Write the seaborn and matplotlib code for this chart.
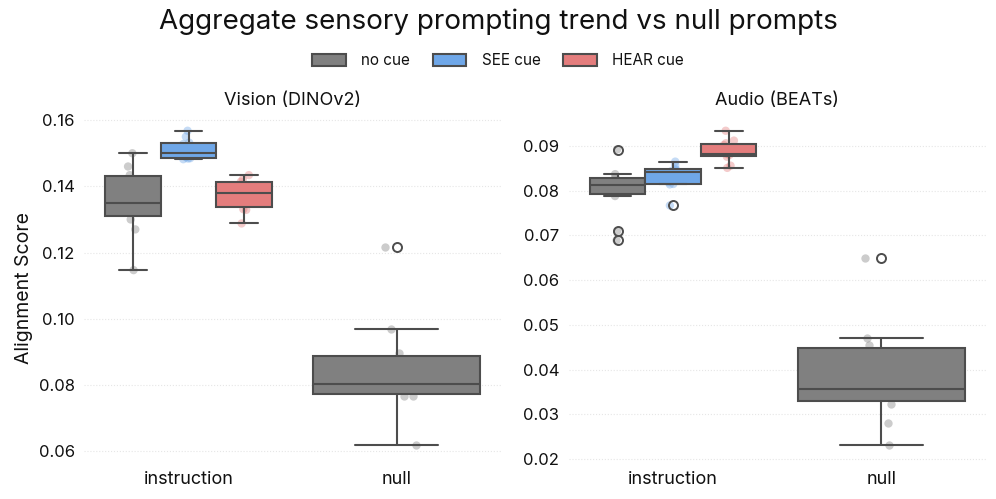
# Aggregate sensory prompting trend vs null prompts

import numpy as np
import pandas as pd
import matplotlib.pyplot as plt
import seaborn as sns
from matplotlib.patches import Patch

np.random.seed(3)

# Values
cues = ["no cue", "SEE cue", "HEAR cue"]
prompts = ["instruction", "null"]

vision_instr_nocue = [0.1147, 0.127, 0.130, 0.134, 0.1345, 0.1355, 0.142, 0.1434, 0.146, 0.150]
vision_instr_see = [0.1482, 0.1484, 0.1485, 0.1488, 0.1498, 0.1506, 0.1528, 0.1532, 0.155, 0.1568]
vision_instr_hear = [0.1288, 0.1329, 0.1331, 0.1361, 0.1375, 0.1385, 0.1405, 0.1414, 0.1421, 0.1434]
vision_null = [0.0618, 0.0767, 0.0767, 0.0795, 0.0800, 0.0806, 0.0854, 0.0898, 0.0968, 0.1217]

audio_instr_nocue = [0.0689, 0.0710, 0.0788, 0.0804, 0.0810, 0.0814, 0.0822, 0.0830, 0.0837, 0.0892]
audio_instr_see = [0.0767, 0.0814, 0.0815, 0.0819, 0.0838, 0.0844, 0.0846, 0.0848, 0.0857, 0.0865]
audio_instr_hear = [0.0851, 0.0856, 0.0876, 0.0880, 0.0882, 0.0884, 0.0902, 0.0906, 0.0912, 0.0934]
audio_null = [0.0231, 0.0280, 0.0323, 0.0347, 0.0352, 0.0362, 0.0424, 0.0456, 0.0470, 0.0649]

palette = {"no cue": "#808080", "SEE cue": "#6fa7e8", "HEAR cue": "#e47d7d"}
line_col = "#4d4d4d"


def build(nocue, see, hear, null):
    rows = []
    for cue, vals in zip(cues, [nocue, see, hear]):
        for v in vals:
            rows.append({"prompt": "instruction", "cue": cue, "score": v})
    for v in null:
        rows.append({"prompt": "null", "cue": "no cue", "score": v})
    return pd.DataFrame(rows)


panels = [
    ("Vision (DINOv2)", build(vision_instr_nocue, vision_instr_see, vision_instr_hear, vision_null)),
    ("Audio (BEATs)", build(audio_instr_nocue, audio_instr_see, audio_instr_hear, audio_null)),
]

sns.set_style("white")
plt.rcParams['font.family'] = ['Inter', 'DejaVu Sans']
plt.rcParams['text.color'] = "#111111"
plt.rcParams['axes.labelcolor'] = "#111111"

fig = plt.figure(figsize=(9.96, 4.99), dpi=100)
ax_left = fig.add_axes([0.0848, 0.0762, 0.4179, 0.6933])
ax_right = fig.add_axes([0.5713, 0.0762, 0.4182, 0.6933])

box_kw = dict(linecolor=line_col, linewidth=1.5, saturation=1, width=0.8,
              flierprops=dict(marker="o", markersize=6.5, markerfacecolor="none",
                              markeredgecolor=line_col, markeredgewidth=1.4))

for ax, (title, df) in zip([ax_left, ax_right], panels):
    instr = df[df["prompt"] == "instruction"]
    null = df[df["prompt"] == "null"]

    sns.stripplot(data=instr, x="prompt", y="score", hue="cue", order=prompts,
                  hue_order=cues, palette=palette, dodge=True, jitter=0.08,
                  alpha=0.4, size=6, ax=ax, legend=False)
    sns.stripplot(data=null, x="prompt", y="score", order=prompts,
                  color=palette["no cue"], jitter=0.1, alpha=0.4, size=6, ax=ax)

    sns.boxplot(data=instr, x="prompt", y="score", hue="cue", order=prompts,
                hue_order=cues, palette=palette, ax=ax, legend=False, **box_kw)
    sns.boxplot(data=null, x="prompt", y="score", order=prompts,
                color=palette["no cue"], ax=ax, **box_kw)

    # points sit underneath the boxes, box lines and fliers on top
    for c in ax.collections:
        c.set_zorder(1)
    for p in ax.patches:
        p.set_zorder(3)
    for ln in ax.lines:
        ln.set_zorder(4)

    ax.set_title(title, fontsize=13, pad=7)
    ax.set_xlabel("")
    ax.set_ylabel("")
    ax.set_xlim(-0.5, 1.5)
    ax.yaxis.grid(True, linestyle=":", color="#e6e6e6", linewidth=0.8)
    ax.set_axisbelow(True)
    ax.tick_params(axis="both", length=3, color="#bbbbbb", labelcolor="#111111",
                   labelsize=12, pad=4)
    ax.tick_params(axis="x", labelsize=13)
    sns.despine(ax=ax, left=True, bottom=True)

ax_left.set_ylabel("Alignment Score", fontsize=14)

handles = [Patch(facecolor=palette[c], edgecolor=line_col, linewidth=1.5, label=c) for c in cues]
fig.legend(handles=handles, loc="center", bbox_to_anchor=(0.5, 0.878), ncol=3,
           frameon=False, fontsize=11, handlelength=2.2, handleheight=0.9,
           columnspacing=1.5, handletextpad=1.0)

fig.suptitle("Aggregate sensory prompting trend vs null prompts", fontsize=20, y=0.956, va="center")

plt.savefig("out.png", dpi=100)
plt.close()
